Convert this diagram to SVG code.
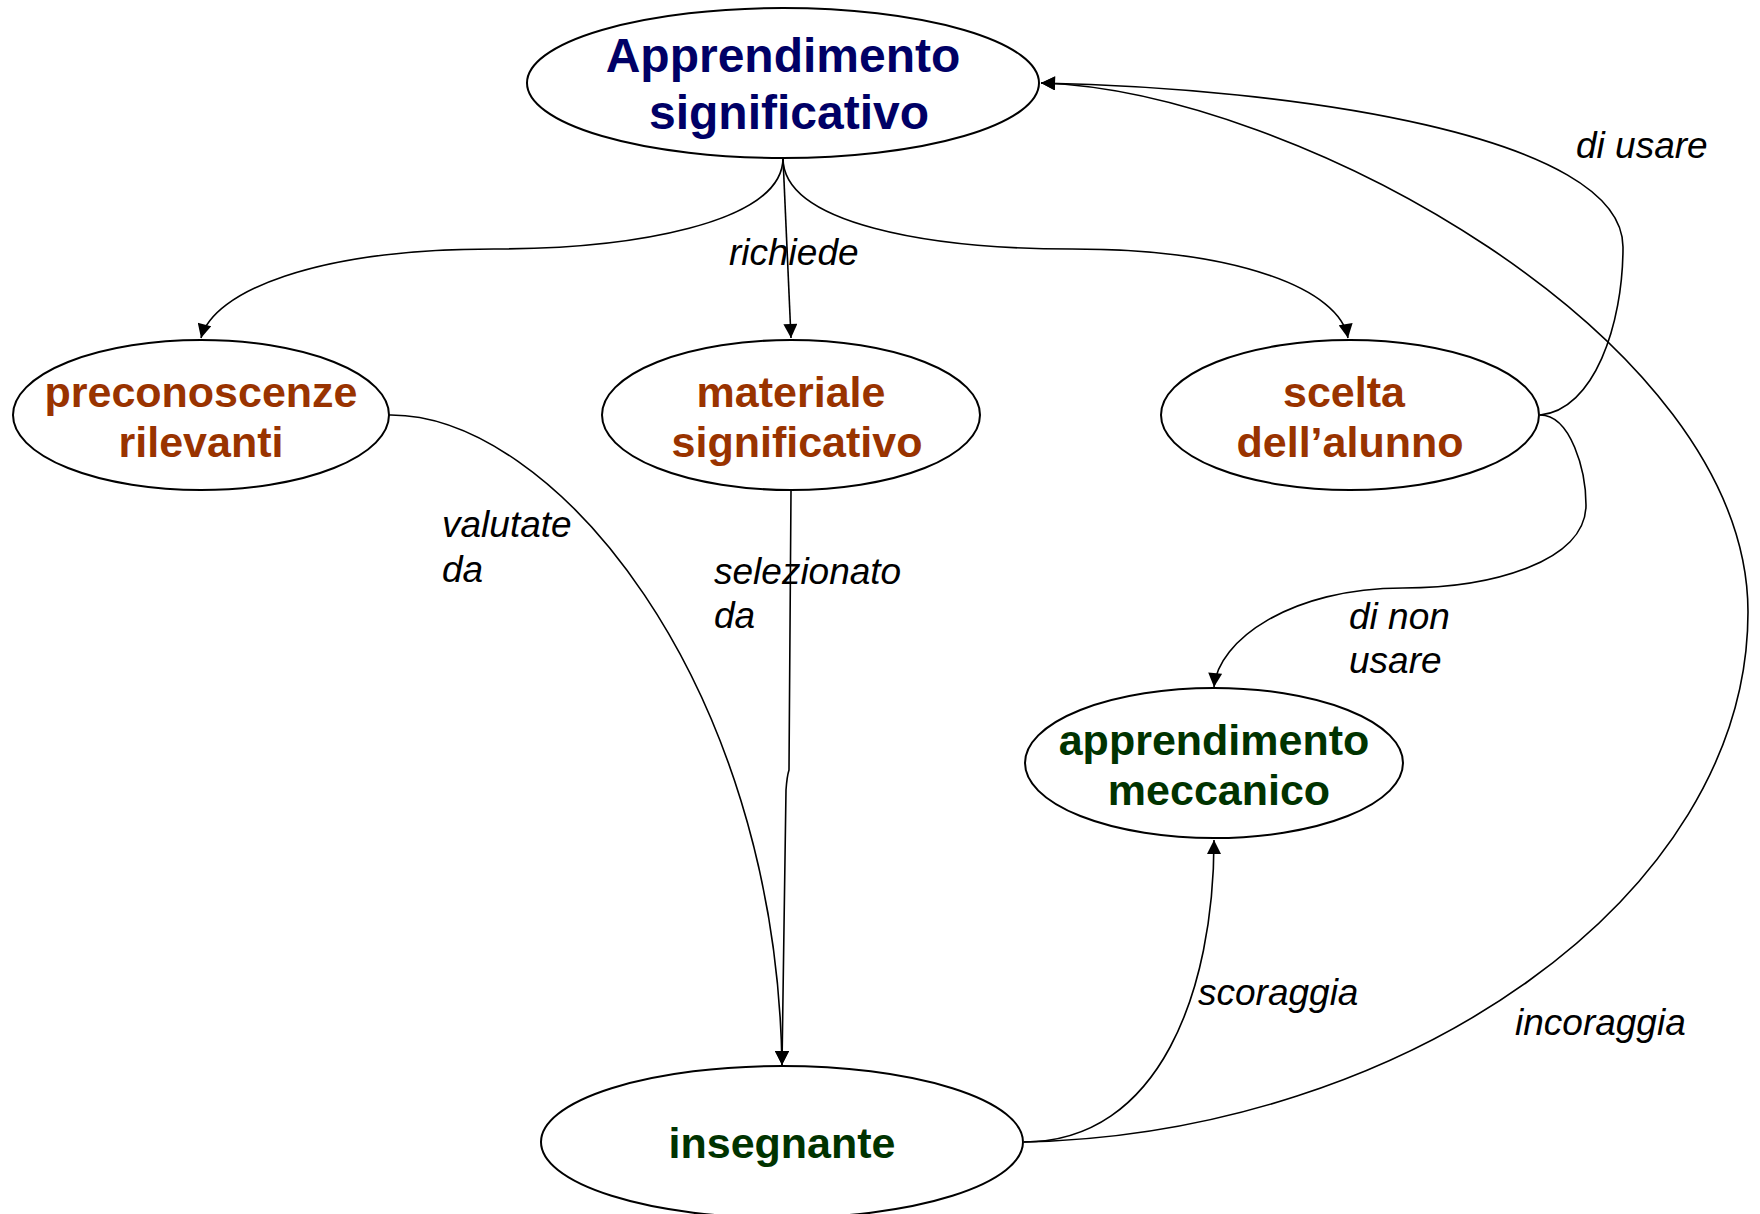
<svg xmlns="http://www.w3.org/2000/svg" width="1760" height="1214" viewBox="0 0 1760 1214">
  <style>
    .node ellipse { fill: #ffffff; stroke: #000000; stroke-width: 2; }
    .t { font-family: "Liberation Sans", Arial, sans-serif; font-weight: bold; text-anchor: middle; }
    .blue { fill: #000066; font-size: 48px; }
    .brown { fill: #993300; font-size: 43px; }
    .green { fill: #003300; font-size: 43px; }
    .lbl { font-family: "Liberation Sans", Arial, sans-serif; font-style: italic; font-size: 37px; fill: #000000; }
    .edge { fill: none; stroke: #000000; stroke-width: 1.6; }
  </style>
  <defs>
    <marker id="arrow" viewBox="0 0 10 10" refX="10" refY="5" markerUnits="userSpaceOnUse" markerWidth="16" markerHeight="14" orient="auto">
      <path d="M0,0 L10,5 L0,10 z" fill="#000000"/>
    </marker>
  </defs>
  <rect width="1760" height="1214" fill="#ffffff"/>

  <!-- connectors -->
  <g id="connectors">
    <path class="edge" marker-end="url(#arrow)" d="M783,158 C783,224 629,249 494,249 C314,249 213,292 201,338"/>
    <path class="edge" marker-end="url(#arrow)" d="M783,158 L791,338"/>
    <path class="edge" marker-end="url(#arrow)" d="M783,158 C783,224 930,249 1072,249 C1240,249 1340,290 1348,338"/>
    <path class="edge" marker-end="url(#arrow)" d="M389,415 C552,413 776,680 782,1065"/>
    <path class="edge" marker-end="url(#arrow)" d="M791,491 L789,770 Q787,776 786,790 L782,1065"/>
    <path class="edge" marker-end="url(#arrow)" d="M1540,415 C1594,410 1623,325 1623,247 C1623,135 1291,88 1041,83"/>
    <path class="edge" marker-end="url(#arrow)" d="M1540,415 C1571,415 1586,471 1586,505 C1586,561 1493,588 1403,588 C1291,588 1218,640 1214,687"/>
    <path class="edge" marker-end="url(#arrow)" d="M1024,1142 C1160,1142 1214,990 1214,840"/>
    <path class="edge" marker-end="url(#arrow)" d="M1024,1142 C1403,1134 1748,898 1748,612 C1748,337 1291,90 1041,83"/>
  </g>

  <!-- connector labels -->
  <g id="labels">
    <text class="lbl" x="729" y="265">richiede</text>
    <text class="lbl" x="442" y="537">valutate</text>
    <text class="lbl" x="442" y="582">da</text>
    <text class="lbl" x="714" y="584">selezionato</text>
    <text class="lbl" x="714" y="628">da</text>
    <text class="lbl" x="1576" y="158">di usare</text>
    <text class="lbl" x="1349" y="629">di non</text>
    <text class="lbl" x="1349" y="673">usare</text>
    <text class="lbl" x="1198" y="1005">scoraggia</text>
    <text class="lbl" x="1515" y="1035">incoraggia</text>
  </g>

  <!-- nodes -->
  <g id="apprendimento-significativo" class="node">
    <ellipse cx="783" cy="83" rx="256" ry="75"/>
    <text class="t blue" x="783" y="72">Apprendimento</text>
    <text class="t blue" x="789" y="129">significativo</text>
  </g>
  <g id="preconoscenze-rilevanti" class="node">
    <ellipse cx="201" cy="415" rx="188" ry="75"/>
    <text class="t brown" x="201" y="407">preconoscenze</text>
    <text class="t brown" x="201" y="457">rilevanti</text>
  </g>
  <g id="materiale-significativo" class="node">
    <ellipse cx="791" cy="415" rx="189" ry="75"/>
    <text class="t brown" x="791" y="407">materiale</text>
    <text class="t brown" x="797" y="457">significativo</text>
  </g>
  <g id="scelta-alunno" class="node">
    <ellipse cx="1350" cy="415" rx="189" ry="75"/>
    <text class="t brown" x="1344" y="407">scelta</text>
    <text class="t brown" x="1350" y="457">dell’alunno</text>
  </g>
  <g id="apprendimento-meccanico" class="node">
    <ellipse cx="1214" cy="763" rx="189" ry="75"/>
    <text class="t green" x="1214" y="755">apprendimento</text>
    <text class="t green" x="1219" y="805">meccanico</text>
  </g>
  <g id="insegnante" class="node">
    <ellipse cx="782" cy="1142" rx="241" ry="76"/>
    <text class="t green" x="782" y="1158">insegnante</text>
  </g>
</svg>
